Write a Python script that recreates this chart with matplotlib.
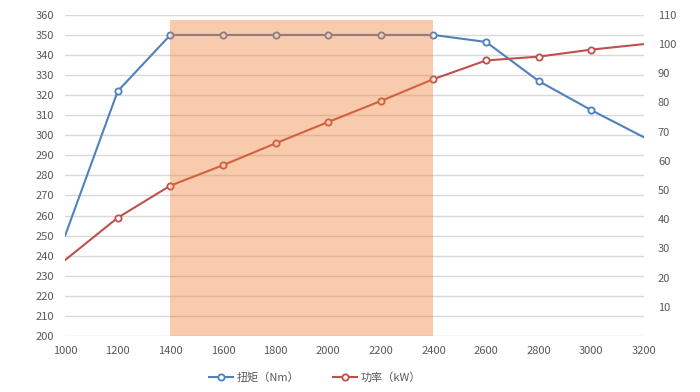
import matplotlib.pyplot as plt

plt.rcParams['font.family'] = ['Noto Sans CJK SC', 'DejaVu Sans']

rpm = [1000, 1200, 1400, 1600, 1800, 2000, 2200, 2400, 2600, 2800, 3000, 3200]
torque = [250, 322, 350, 350, 350, 350, 350, 350, 346.5, 327, 312.5, 299]
power = [26, 40.5, 51.5, 58.5, 66, 73.3, 80.5, 88, 94.4, 95.7, 98.1, 100]
band_start, band_end = 1400, 2400

BLUE = '#4F81BD'
RED = '#C0504D'
GRAY = '#595959'

fig = plt.figure(figsize=(7, 3.92), dpi=100)
ax = fig.add_axes([0.093, 0.143, 0.827, 0.819])
ax2 = ax.twinx()

ax.set_zorder(2)
ax.patch.set_visible(False)
ax2.set_zorder(1)

inner = list(range(1, len(rpm) - 1))  # end points drawn without markers
style = dict(lw=1.5, marker='o', ms=4.5, mfc='white', mew=1.3)

ax.plot(rpm, torque, color=BLUE, mec=BLUE, markevery=inner,
        label='扭矩（Nm）', zorder=3, **style)
ax2.plot([], [], color=RED, mec=RED, label='功率（kW）', **style)
# power drawn on the left axis scale so the band overlay covers it too
scale = lambda p: 200 + p * 160 / 110
ax.plot(rpm, [scale(p) for p in power], color=RED, mec=RED,
        markevery=inner, zorder=3, **style)

ax.fill_between([band_start, band_end], 200, 357.5, color='#ED7D31',
                alpha=0.4, lw=0, zorder=4)

ax.set_xlim(1000, 3200)
ax.set_ylim(200, 360)
ax2.set_ylim(0, 110)
ax.set_xticks(range(1000, 3201, 200))
ax.set_yticks(range(200, 361, 10))
ax2.set_yticks(range(10, 111, 10))

ax.grid(axis='y', color='#D9D9D9', lw=1)
for a in (ax, ax2):
    for s in a.spines.values():
        s.set_visible(False)
    a.tick_params(length=0, labelsize=8, labelcolor=GRAY)
ax.tick_params(axis='x', pad=7)
ax.tick_params(axis='y', pad=8)
ax2.tick_params(axis='y', pad=10)

h1, l1 = ax.get_legend_handles_labels()
h2, l2 = ax2.get_legend_handles_labels()
fig.legend(h1[:1] + h2, l1[:1] + l2, loc='center', bbox_to_anchor=(0.45, 0.037),
           ncol=2, frameon=False, fontsize=8, labelcolor=GRAY,
           handlelength=2.2, columnspacing=3, handletextpad=0.3)

fig.savefig('out.png', dpi=100)
